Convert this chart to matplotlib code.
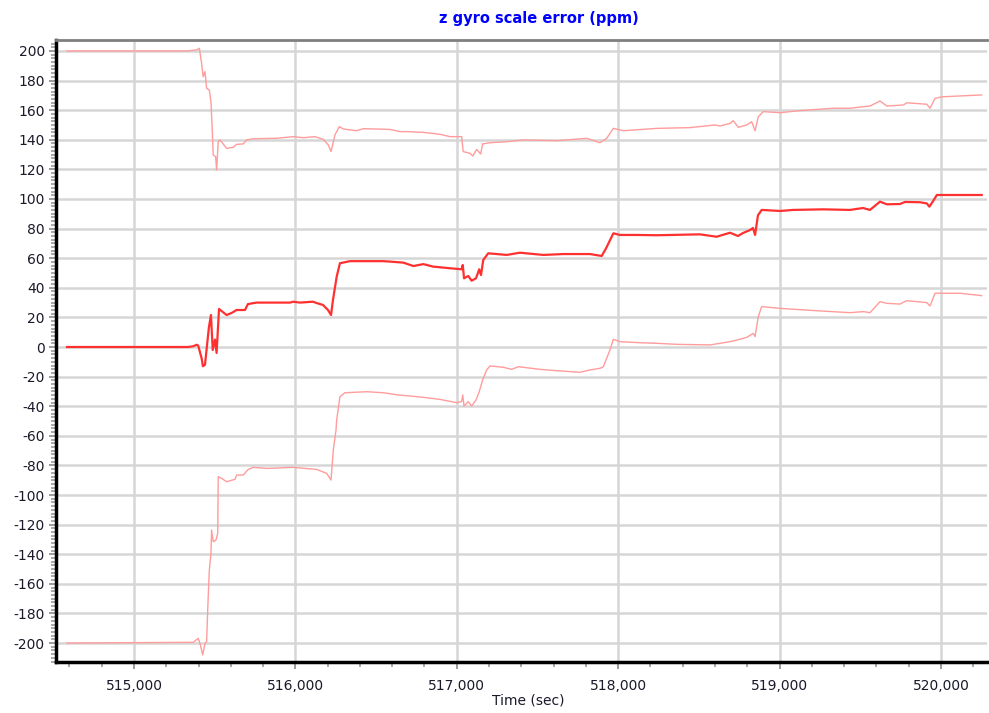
import matplotlib
matplotlib.use("Agg")
import matplotlib.pyplot as plt
from matplotlib.ticker import MultipleLocator, FuncFormatter

plt.rcParams['axes.unicode_minus'] = False

# ---- data ----
t_mid = [514585, 515335, 515367, 515388, 515398, 515420, 515427, 515440, 515464, 515477,
         515488, 515502, 515512, 515527, 515574, 515605, 515636, 515688, 515706, 515760,
         515967, 515987, 516029, 516109, 516132, 516171, 516202, 516221, 516233, 516256,
         516276, 516338, 516442, 516543, 516586, 516669, 516731, 516793, 516854, 516958,
         517030, 517037, 517045, 517071, 517092, 517119, 517139, 517150, 517164, 517195,
         517309, 517392, 517536, 517660, 517825, 517898, 517925, 517970, 518011, 518115,
         518239, 518507, 518610, 518693, 518742, 518773, 518817, 518835, 518848, 518866,
         518889, 519003, 519083, 519269, 519436, 519517, 519560, 519622, 519664, 519746,
         519777, 519870, 519912, 519928, 519953, 519974, 520252]
v_mid = [0, 0, 0.5, 1.5, 1, -8, -13, -12, 13, 21.6,
         -2, 5, -4, 25.7, 21.6, 23, 25, 25, 29, 30,
         30, 30.6, 30, 30.6, 29.7, 28.4, 25, 21.6, 31.8, 47.5,
         56.6, 58, 58, 58, 57.7, 57, 54.7, 56, 54.3, 53.2,
         52.5, 55.4, 46.4, 48, 44.8, 46.4, 52.5, 48.6, 58.8, 63.3,
         62.2, 63.7, 62.2, 62.8, 62.8, 61.5, 66.7, 76.8, 75.7, 75.7,
         75.5, 76.1, 74.5, 77.2, 75, 77, 79, 80.4, 75.7, 89,
         92.6, 91.9, 92.6, 93, 92.6, 93.9, 92.6, 98.2, 96.4, 96.6,
         98, 97.8, 97, 94.8, 98.9, 102.7, 102.7]

t_hi = [514585, 515327, 515388, 515405, 515419, 515429, 515440, 515450, 515467, 515477,
        515485, 515491, 515506, 515512, 515522, 515533, 515574, 515615, 515636, 515677,
        515698, 515739, 515884, 515987, 516049, 516121, 516173, 516204, 516221, 516245,
        516272, 516297, 516380, 516421, 516586, 516648, 516690, 516793, 516896, 516958,
        517030, 517040, 517082, 517099, 517123, 517148, 517160, 517206, 517309, 517412,
        517619, 517805, 517887, 517929, 517970, 518032, 518239, 518445, 518600, 518631,
        518693, 518713, 518744, 518796, 518827, 518848, 518868, 518899, 519003, 519127,
        519333, 519436, 519560, 519622, 519664, 519767, 519788, 519912, 519932, 519963,
        520005, 520118, 520252]
v_hi = [200, 200, 200.7, 201.8, 191.7, 182.6, 186, 174.8, 173.6, 165.7,
        146.6, 129.7, 128.6, 119.6, 138.7, 139.9, 134.2, 134.9, 136.9, 137.2,
        139.9, 140.7, 141, 142.1, 141.4, 142.1, 140.3, 136.5, 132, 143.2,
        148.9, 147.3, 146.1, 147.5, 147, 145.5, 145.5, 145, 143.7, 142.1,
        142.1, 132, 130.9, 129, 133.5, 130.4, 137.2, 138, 138.7, 139.9,
        139.4, 141, 138, 141, 147.7, 146.1, 147.7, 148.2, 150, 149.3,
        151.1, 152.9, 148.4, 150, 152.2, 146.1, 155.6, 159, 158.3, 159.7,
        161.3, 161.3, 162.8, 166.2, 162.8, 163.5, 165, 164, 161.3, 168,
        169, 169.6, 170.3]

t_lo = [514585, 515367, 515398, 515409, 515426, 515440, 515450, 515460, 515467, 515477,
        515481, 515491, 515508, 515519, 515522, 515543, 515574, 515626, 515636, 515677,
        515708, 515739, 515822, 515987, 516132, 516194, 516221, 516235, 516252, 516256,
        516276, 516307, 516442, 516545, 516638, 516710, 516793, 516896, 516999, 517030,
        517037, 517045, 517071, 517092, 517119, 517139, 517160, 517185, 517206, 517288,
        517340, 517381, 517516, 517619, 517763, 517825, 517887, 517908, 517949, 517970,
        518011, 518135, 518239, 518363, 518569, 518693, 518734, 518796, 518837, 518848,
        518868, 518889, 519003, 519230, 519436, 519519, 519560, 519622, 519664, 519746,
        519788, 519912, 519932, 519963, 520118, 520252]
v_lo = [-200, -199.5, -196.8, -200.2, -208, -200.2, -199, -168.7, -150.7, -139.4,
        -123.6, -131.5, -130.4, -125.9, -87.6, -88.7, -91, -89.4, -86.5, -86.5,
        -82.7, -81.3, -82, -81.3, -82.7, -85.4, -89.9, -69.6, -56, -49.3,
        -33.6, -30.9, -30.2, -30.9, -32.4, -33.1, -34, -35.4, -37.6, -36.9,
        -32.4, -39.9, -36.9, -39.9, -35.8, -30.2, -22.3, -15.5, -12.8, -13.7,
        -15.1, -13.3, -15.1, -16, -17.1, -15.5, -14.4, -13.3, -2, 5.2,
        3.6, 2.9, 2.5, 1.8, 1.4, 3.6, 4.7, 6.5, 9.2, 7,
        20.5, 27.3, 26.1, 24.5, 23.2, 23.9, 23.2, 30.6, 29.5, 29,
        31.3, 30, 27.7, 36.3, 36.3, 34.7]

x_ticks = [515000, 516000, 517000, 518000, 519000, 520000]
y_ticks = list(range(-200, 201, 20))
title = "z gyro scale error (ppm)"
xlabel = "Time (sec)"

# ---- plot ----
fig = plt.figure(figsize=(9.89, 7.13), dpi=100)
ax = fig.add_axes([56/989, 1-662/713, (987-56)/989, (662-40)/713])

ax.plot(t_hi, v_hi, color='#ff9c9c', lw=1.0, zorder=3)
ax.plot(t_lo, v_lo, color='#ff9c9c', lw=1.0, zorder=3)
ax.plot(t_mid, v_mid, color='#ff3030', lw=1.6, zorder=4)

ax.set_xlim(514517, 520285)
ax.set_ylim(-212.8, 207.4)
ax.set_xticks(x_ticks)
ax.set_yticks(y_ticks)
ax.xaxis.set_minor_locator(MultipleLocator(200))
ax.yaxis.set_minor_locator(MultipleLocator(2.5))
ax.xaxis.set_major_formatter(FuncFormatter(lambda v, p: f"{int(v):,}"))
ax.yaxis.set_major_formatter(FuncFormatter(lambda v, p: f"{int(round(v))}"))
ax.grid(True, which='major', color='#d6d6d6', lw=1.8, zorder=0)
ax.set_axisbelow(True)

for s in ['left', 'bottom']:
    ax.spines[s].set_color('black')
    ax.spines[s].set_linewidth(2.5)
ax.spines['top'].set_color('#7f7f7f')
ax.spines['top'].set_linewidth(2)
ax.spines['right'].set_visible(False)

ax.tick_params(axis='both', which='major', length=5, width=1.2, color='#8a8a8a',
               labelsize=10, labelcolor='#1a1a2a')
ax.tick_params(axis='x', which='major', pad=7)
ax.tick_params(axis='y', which='major', pad=3)
ax.tick_params(axis='both', which='minor', length=3.5, width=1.2, color='#9a9a9a')

fig.text(539/989, 1-19/713, title, ha='center', va='center', color='#0000ff',
         fontsize=10.5, fontweight='bold')
fig.text(528/989, 1-700/713, xlabel, ha='center', va='center', fontsize=10,
         color='#1a1a2a')

fig.savefig('out.png', dpi=100)
